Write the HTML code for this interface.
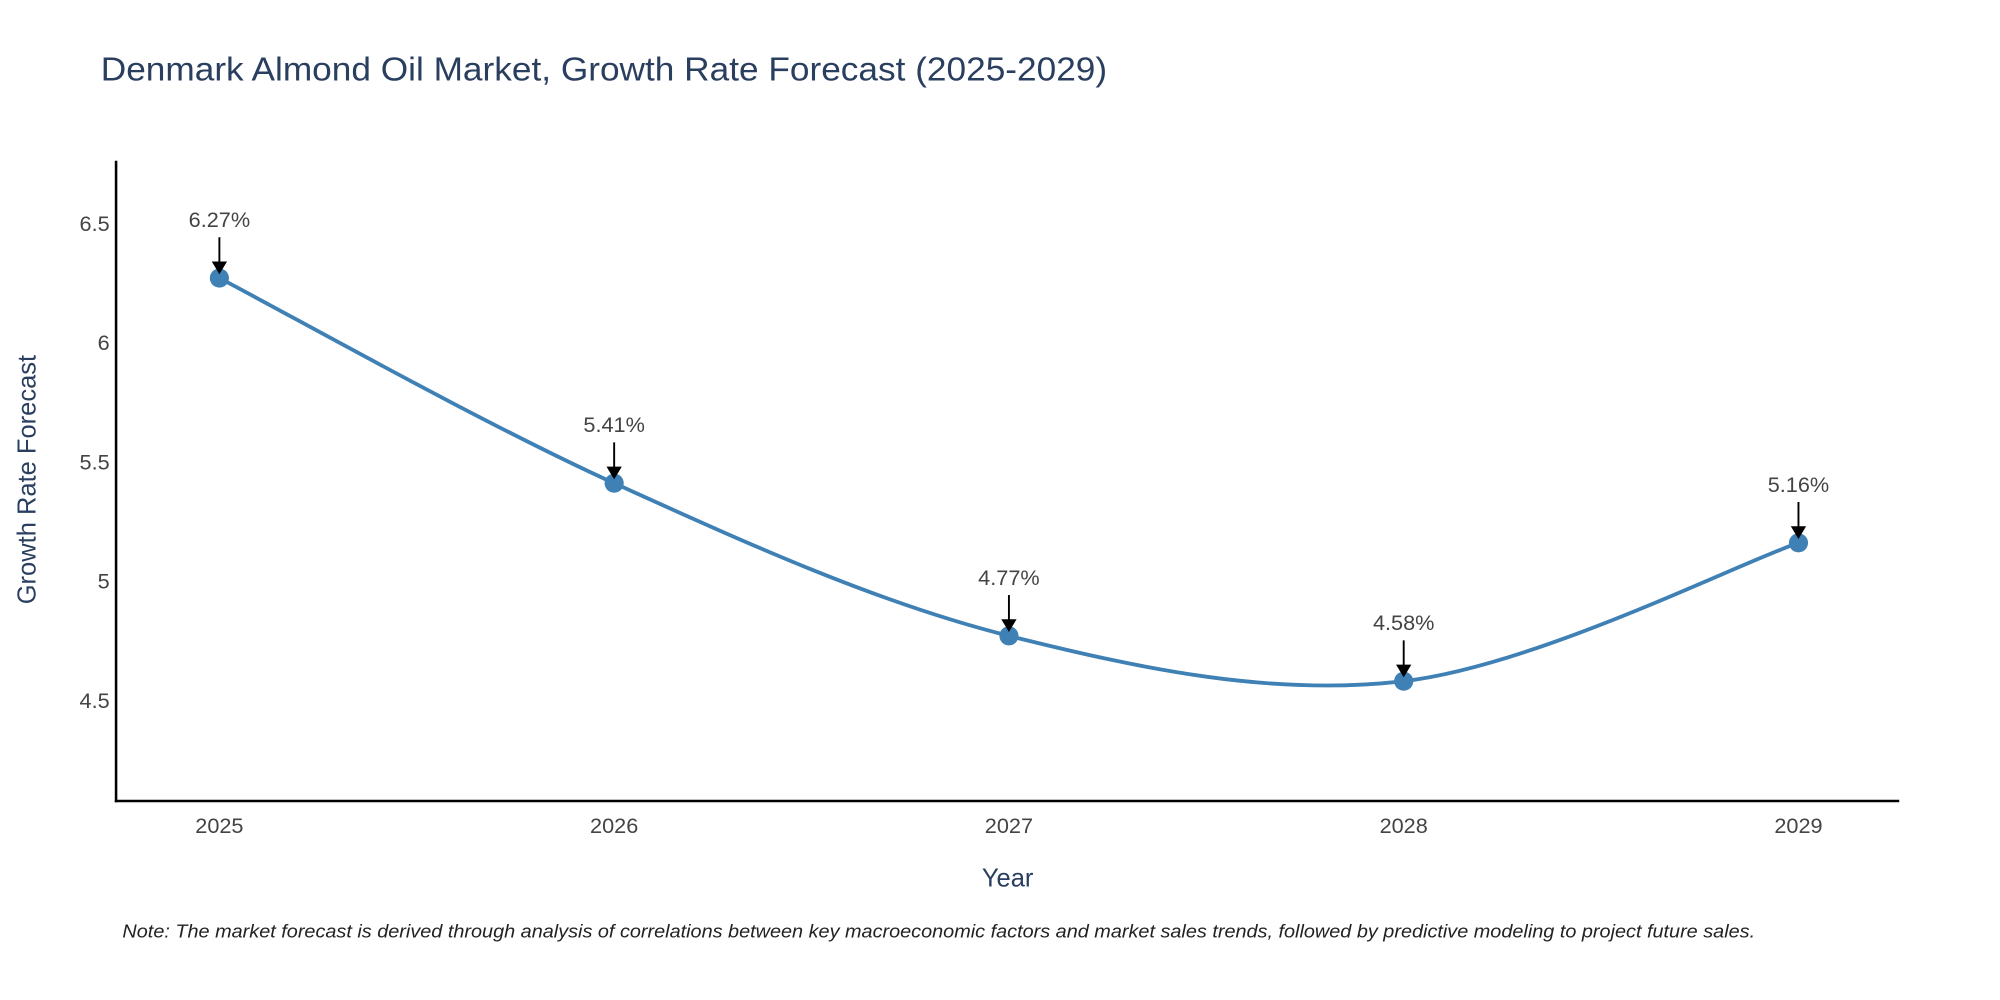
<!DOCTYPE html>
<html><head><meta charset="utf-8"><style>html,body{margin:0;padding:0;background:#fff}svg{display:block}text{font-family:"Liberation Sans",sans-serif}</style></head>
<body>
<svg id="chart" width="2000" height="1000" viewBox="0 0 1568 784" preserveAspectRatio="none" xmlns="http://www.w3.org/2000/svg">
<text x="79" y="63" font-size="26" fill="#2a3f5f" textLength="789" lengthAdjust="spacingAndGlyphs">Denmark Almond Oil Market, Growth Rate Forecast (2025-2029)</text>
<g id="yticks"></g><g id="xticks"></g>
<line x1="91" y1="126" x2="91" y2="629" stroke="#000" stroke-width="2"/>
<line x1="90" y1="628" x2="1489" y2="628" stroke="#000" stroke-width="2"/>
<path id="line" fill="none" stroke="#3f80b5" stroke-width="3"/>
<g id="marks"></g>
<text transform="translate(28,376) rotate(-90)" text-anchor="middle" font-size="20" fill="#2a3f5f">Growth Rate Forecast</text>
<text x="790" y="695" text-anchor="middle" font-size="20" fill="#2a3f5f">Year</text>
<text x="96" y="735" font-size="14.5" font-style="italic" fill="#222" textLength="1280" lengthAdjust="spacingAndGlyphs">Note: The market forecast is derived through analysis of correlations between key macroeconomic factors and market sales trends, followed by predictive modeling to project future sales.</text>
</svg>
<script>
const categories = ["2025","2026","2027","2028","2029"];
const values = [6.27, 5.41, 4.77, 4.58, 5.16];
const valueLabels = ["6.27%","5.41%","4.77%","4.58%","5.16%"];
const yTicks = [4.5, 5, 5.5, 6, 6.5];
const yTickLabels = ["4.5","5","5.5","6","6.5"];
const NS="http://www.w3.org/2000/svg";
function xs(i){return 172+i*309.5;}
function ys(v){return 549-(v-4.5)*187;}
function mk(tag,attrs,parent){const e=document.createElementNS(NS,tag);for(const k in attrs)e.setAttribute(k,attrs[k]);parent.appendChild(e);return e;}
const yt=document.getElementById('yticks'),xt=document.getElementById('xticks'),mg=document.getElementById('marks');
yTicks.forEach((v,i)=>{const t=mk('text',{x:86,y:ys(v)+6,'text-anchor':'end','font-size':17,fill:'#444'},yt);


t.textContent=yTickLabels[i];});
categories.forEach((c,i)=>{const t=mk('text',{x:xs(i),y:653,'text-anchor':'middle','font-size':17,fill:'#444'},xt);


t.textContent=c;});
const pts=values.map((v,i)=>[xs(i),ys(v)]);
let d=`M${pts[0][0]},${pts[0][1]}`;const tn=0.5;
for(let i=0;i<pts.length-1;i++){const p0=pts[Math.max(0,i-1)],p1=pts[i],p2=pts[i+1],p3=pts[Math.min(pts.length-1,i+2)];
const c1=[p1[0]+(p2[0]-p0[0])*tn/3,p1[1]+(p2[1]-p0[1])*tn/3],c2=[p2[0]-(p3[0]-p1[0])*tn/3,p2[1]-(p3[1]-p1[1])*tn/3];
d+=` C${c1[0]},${c1[1]} ${c2[0]},${c2[1]} ${p2[0]},${p2[1]}`;}
document.getElementById('line').setAttribute('d',d);
pts.forEach((p,i)=>{const c=mk('circle',{cx:p[0],cy:p[1],r:7.5,fill:'#3f80b5'},mg);


const l=mk('line',{x1:p[0],y1:p[1]-32,x2:p[0],y2:p[1]-12,stroke:'#000','stroke-width':1.5},mg);


const a=mk('path',{d:`M${p[0]-6},${p[1]-13} L${p[0]+6},${p[1]-13} L${p[0]},${p[1]-3} Z`,fill:'#000'},mg);


const t=mk('text',{x:p[0],y:p[1]-40,'text-anchor':'middle','font-size':17,fill:'#444'},mg);


t.textContent=valueLabels[i];});
</script>
</body></html>
